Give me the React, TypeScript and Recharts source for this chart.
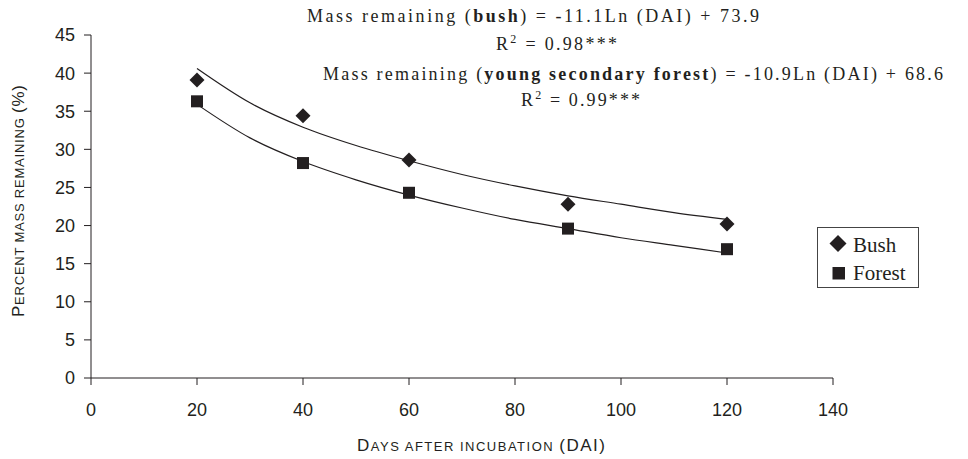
import { ComposedChart, Line, Scatter, XAxis, YAxis, Customized } from 'recharts';

const days = [20, 40, 60, 90, 120];
const bushValues = [39.1, 34.4, 28.6, 22.8, 20.2];
const forestValues = [36.3, 28.2, 24.3, 19.6, 16.9];

// fitted log curves as they are drawn in the figure
const trendDays = [20, 30, 40, 50, 60, 70, 80, 90, 100, 110, 120];
const bushTrend = [40.6, 36.1, 32.9, 30.5, 28.5, 26.7, 25.2, 23.9, 22.8, 21.7, 20.8];
const forestTrend = [35.9, 31.5, 28.4, 26.0, 24.0, 22.3, 20.8, 19.6, 18.4, 17.4, 16.4];

const xTicks = [0, 20, 40, 60, 80, 100, 120, 140];
const yTicks = [0, 5, 10, 15, 20, 25, 30, 35, 40, 45];

const INK = '#231f20';
const SANS = '"Liberation Sans", Arial, sans-serif';
const SERIF = '"Liberation Serif", "Times New Roman", serif';

const bushData = days.map((x, i) => ({ x, y: bushValues[i] }));
const forestData = days.map((x, i) => ({ x, y: forestValues[i] }));
const bushTrendData = trendDays.map((x, i) => ({ x, y: bushTrend[i] }));
const forestTrendData = trendDays.map((x, i) => ({ x, y: forestTrend[i] }));

const diamondPath = (cx: number, cy: number, r: number) =>
  `M${cx},${cy - r}L${cx + r},${cy}L${cx},${cy + r}L${cx - r},${cy}Z`;

const Diamond = ({ cx, cy }: any) => <path d={diamondPath(cx, cy, 7.5)} fill={INK} />;

const Square = ({ cx, cy }: any) => <rect x={cx - 6} y={cy - 6} width={12} height={12} fill={INK} />;

const Annotations = () => (
  <g fill={INK}>
    <text x={307} y={22} fontFamily={SERIF} fontSize={18} textLength={452} lengthAdjust="spacing">
      Mass remaining (<tspan fontWeight="bold">bush</tspan>) = -11.1Ln (DAI) + 73.9
    </text>
    <text x={496} y={50} fontFamily={SERIF} fontSize={18} textLength={121} lengthAdjust="spacing">
      R<tspan fontSize={12} dy={-7}>2</tspan>
      <tspan dy={7}> = 0.98***</tspan>
    </text>
    <text x={323} y={80} fontFamily={SERIF} fontSize={18} textLength={620} lengthAdjust="spacing">
      Mass remaining (<tspan fontWeight="bold">young secondary forest</tspan>) = -10.9Ln (DAI) + 68.6
    </text>
    <text x={521} y={106} fontFamily={SERIF} fontSize={18} textLength={119} lengthAdjust="spacing">
      R<tspan fontSize={12} dy={-7}>2</tspan>
      <tspan dy={7}> = 0.99***</tspan>
    </text>
    <text x={357} y={451} fontFamily={SANS} fontSize={17} textLength={248} lengthAdjust="spacing">
      D<tspan fontSize={13}>AYS AFTER INCUBATION </tspan>(DAI)
    </text>
    <text x={24} y={317} fontFamily={SANS} fontSize={17} textLength={232} lengthAdjust="spacing" transform="rotate(-90 24 317)">
      P<tspan fontSize={13}>ERCENT MASS REMAINING </tspan>(%)
    </text>
    {/* legend */}
    <rect x={817.5} y={227.5} width={101} height={60} fill="#fff" stroke="#444" />
    <path d={diamondPath(838, 243.5, 8.5)} fill={INK} />
    <text x={853} y={252} fontFamily={SERIF} fontSize={21}>Bush</text>
    <rect x={832.5} y={267} width={12.5} height={12.5} fill={INK} />
    <text x={853} y={280} fontFamily={SERIF} fontSize={21}>Forest</text>
  </g>
);

const App = () => (
  <div>
    <style>{'body{margin:0;background:#fff}'}</style>
    <ComposedChart width={968} height={459} margin={{ top: 35, right: 135, bottom: 0, left: 0 }}>
      <XAxis
        dataKey="x"
        type="number"
        domain={[0, 140]}
        ticks={xTicks}
        height={81}
        tickSize={7}
        tickMargin={18}
        stroke={INK}
        tick={{ fill: INK, fontSize: 18, fontFamily: SANS }}
        allowDuplicatedCategory={false}
      />
      <YAxis
        dataKey="y"
        type="number"
        domain={[0, 45]}
        ticks={yTicks}
        width={91}
        tickSize={7}
        tickMargin={9}
        stroke={INK}
        tick={{ fill: INK, fontSize: 18, fontFamily: SANS }}
      />
      <Line data={bushTrendData} dataKey="y" type="monotone" stroke={INK} strokeWidth={1.2} dot={false} legendType="none" isAnimationActive={false} />
      <Line data={forestTrendData} dataKey="y" type="monotone" stroke={INK} strokeWidth={1.2} dot={false} legendType="none" isAnimationActive={false} />
      <Scatter name="Bush" data={bushData} dataKey="y" shape={<Diamond />} isAnimationActive={false} />
      <Scatter name="Forest" data={forestData} dataKey="y" shape={<Square />} isAnimationActive={false} />
      <Customized component={<Annotations />} />
    </ComposedChart>
  </div>
);

export default App;
